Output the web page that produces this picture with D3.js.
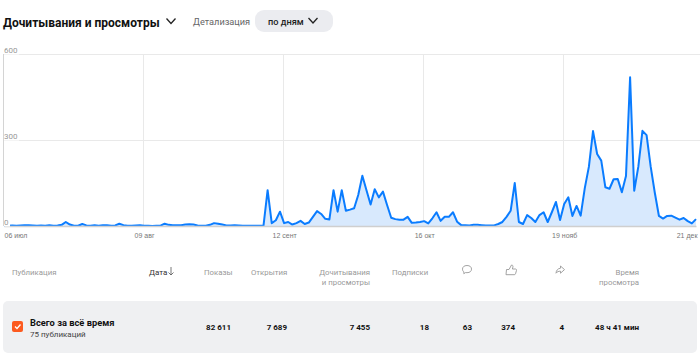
<!DOCTYPE html>
<html>
<head>
<meta charset="utf-8">
<script src="https://cdn.jsdelivr.net/npm/d3@7"></script>
<style>
  html, body { margin: 0; padding: 0; background: #fff; overflow: hidden; }
  svg { display: block; font-family: Roboto, sans-serif; }
</style>
</head>
<body>
<svg id="chart" width="700" height="358"></svg>
<script>
// one value per day, starting 06 июл
const dailyViews = [
  1, 1, 2, 1, 2, 3, 3, 2, 1, 2, 1, 3, 1, 2, 4, 14, 5, 1, 1, 7,
  2, 1, 3, 1, 3, 3, 1, 2, 8, 3, 1, 1, 2, 3, 1, 1, 0, 1, 1, 8,
  4, 3, 3, 3, 5, 6, 5, 2, 1, 1, 4, 10, 8, 5, 2, 2, 3, 2, 1, 1,
  1, 1, 1, 1, 125, 10, 20, 50, 10, 14, 5, 10, 18, 7, 12, 32, 52, 42, 25, 23,
  125, 50, 125, 53, 57, 62, 108, 175, 125, 75, 128, 100, 120, 73, 29, 24, 22, 22, 32, 11,
  12, 14, 17, 9, 27, 48, 18, 32, 32, 48, 15, 3, 3, 2, 4, 4, 3, 2, 2, 2,
  7, 14, 32, 53, 150, 14, 7, 38, 28, 14, 38, 48, 14, 48, 84, 21, 77, 100, 35, 70,
  36, 132, 207, 331, 251, 228, 135, 130, 163, 164, 118, 174, 519, 123, 207, 332, 317, 207, 116, 35,
  26, 35, 36, 29, 22, 28, 17, 9, 24
];
const tickDays = [0, 34, 68, 102, 136, 168];
const tickLabels = ["06 июл", "09 авг", "12 сент", "16 окт", "19 нояб", "21 дек"];
const yTicks = [0, 300, 600];

const headers = ["Публикация", "Показы", "Открытия", "Подписки"];
const totals = ["82 611", "7 689", "7 455", "18", "63", "374", "4", "48 ч 41 мин"];

const svg = d3.select("#chart");
const margin = { top: 54, left: 4, right: 696, bottom: 226 };

const x = d3.scaleLinear().domain([0, 168]).range([margin.left, margin.right]);
const y = d3.scaleLinear().domain([0, 600]).range([margin.bottom, margin.top]);

// Header
svg.append("text").attr("x", 3).attr("y", 26.5)
  .attr("font-size", 12).attr("font-weight", 700).attr("fill", "#111").text("Дочитывания и просмотры");

function chevron(cx, cy, w, color) {
  svg.append("path")
    .attr("d", `M${cx - w},${cy - w * 0.55}L${cx},${cy + w * 0.55}L${cx + w},${cy - w * 0.55}`)
    .attr("fill", "none").attr("stroke", color).attr("stroke-width", 1.3);
}
chevron(171, 21, 4.5, "#222");

svg.append("text").attr("x", 193).attr("y", 24.5)
  .attr("font-size", 9.2).attr("fill", "#666").text("Детализация");
svg.append("rect").attr("x", 255).attr("y", 10).attr("width", 78).attr("height", 22)
  .attr("rx", 9).attr("fill", "#ebecf0");
svg.append("text").attr("x", 268).attr("y", 24.5)
  .attr("font-size", 9.2).attr("font-weight", 500).attr("fill", "#222").text("по дням");
chevron(313, 20.5, 4.5, "#222");

// Grid
const chart = svg.append("g");
chart.selectAll(".hgrid").data(yTicks.slice(1)).enter().append("line")
  .attr("class", "hgrid")
  .attr("x1", margin.left).attr("x2", 700)
  .attr("y1", d => y(d) + 0.5).attr("y2", d => y(d) + 0.5)
  .attr("stroke", "#e9e9e9");
chart.selectAll(".vgrid").data(tickDays.slice(0, 5)).enter().append("line")
  .attr("class", "vgrid")
  .attr("x1", d => Math.round(x(d)) - 0.5).attr("x2", d => Math.round(x(d)) - 0.5)
  .attr("y1", margin.top).attr("y2", margin.bottom)
  .attr("stroke", (d, i) => i === 0 ? "#d4d4d4" : "#e9e9e9");

// Series
const area = d3.area().x((d, i) => x(i)).y0(y(0)).y1(d => y(d));
const line = d3.line().x((d, i) => x(i)).y(d => y(d));
chart.append("path").datum(dailyViews).attr("d", area).attr("fill", "#d8e9fd");

const xAxis = d3.axisBottom(x).tickValues(tickDays).tickSize(0).tickPadding(7)
  .tickFormat((d, i) => tickLabels[i]);
const xg = svg.append("g").attr("transform", `translate(0,${margin.bottom})`).call(xAxis);
xg.select(".domain").attr("stroke", "#cfcfcf").attr("stroke-width", 1.5);
xg.selectAll("text").attr("font-family", "inherit").attr("font-size", 7).attr("fill", "#777")
  .attr("text-anchor", (d, i) => i === 0 ? "start" : i === 5 ? "end" : "middle")
  .attr("dx", (d, i) => i === 5 ? 1 : 0);

chart.append("path").datum(dailyViews).attr("d", line)
  .attr("fill", "none").attr("stroke", "#0a7cff").attr("stroke-width", 2)
  .attr("stroke-linejoin", "round");

// y labels sit above their gridlines, over a white patch
const yLabels = svg.selectAll(".ylab").data(yTicks).enter().append("g").attr("class", "ylab");
yLabels.append("rect")
  .attr("x", margin.left).attr("y", d => y(d) - 9)
  .attr("width", d => d === 0 ? 6 : 15).attr("height", 9.5).attr("fill", "#fff");
yLabels.append("text")
  .attr("x", margin.left).attr("y", d => y(d) - 1.5)
  .attr("font-size", 8).attr("fill", "#999").text(d => d);

// Table
const muted = "#999";
const headerX = [12, 204, 251, 392];
svg.selectAll(".th").data(headers).enter().append("text")
  .attr("class", "th").attr("x", (d, i) => headerX[i]).attr("y", 274.5)
  .attr("font-size", 7.8).attr("fill", muted).text(d => d);

svg.append("text").attr("x", 149).attr("y", 274.5)
  .attr("font-size", 8).attr("fill", "#333").text("Дата");
svg.append("path").attr("d", "M171,267V275M168.5,272.5L171,275L173.5,272.5")
  .attr("fill", "none").attr("stroke", "#555").attr("stroke-width", 0.8);

svg.append("text").attr("x", 370).attr("y", 274.5).attr("text-anchor", "end")
  .attr("font-size", 7.8).attr("fill", muted).text("Дочитывания");
svg.append("text").attr("x", 370).attr("y", 285).attr("text-anchor", "end")
  .attr("font-size", 7.8).attr("fill", muted).text("и просмотры");
svg.append("text").attr("x", 639).attr("y", 274.5).attr("text-anchor", "end")
  .attr("font-size", 7.8).attr("fill", muted).text("Время");
svg.append("text").attr("x", 639).attr("y", 285).attr("text-anchor", "end")
  .attr("font-size", 7.8).attr("fill", muted).text("просмотра");

// comment, like, share icons
const iconStyle = g => g.attr("fill", "none").attr("stroke", "#999").attr("stroke-width", 0.9);
svg.append("path").call(iconStyle)
  .attr("d", "M467,265.5c3,0,4.5,1.6,4.5,3.6s-1.5,3.6-4.5,3.6c-0.5,0-1,0-1.5-0.1l-1.7,1.1l0.1-1.8c-1,-0.6-1.4,-1.6-1.4,-2.8c0-2,1.5-3.6,4.5-3.6z");
svg.append("path").call(iconStyle)
  .attr("d", "M506.5,269.5h2.5l2.5-4.5c1.2,0,1.7,0.9,1.4,2l-0.5,2h3.1c0.8,0,1.2,0.7,1,1.4l-1,3.4c-0.2,0.6-0.6,0.9-1.2,0.9h-8.3z");
svg.append("path").call(iconStyle)
  .attr("d", "M560.5,266l4,3.6l-4,3.6v-2c-2,0-3.4,0.5-4.5,2c0.2-2.8,1.8-4.7,4.5-5z");

svg.append("rect").attr("x", 3).attr("y", 301).attr("width", 694).attr("height", 52)
  .attr("rx", 5).attr("fill", "#eff0f2");
svg.append("rect").attr("x", 12).attr("y", 321).attr("width", 11).attr("height", 11)
  .attr("rx", 2).attr("fill", "#fc5a1f");
svg.append("path").attr("d", "M15,326.5L17,328.5L20.5,324.5")
  .attr("fill", "none").attr("stroke", "#fff").attr("stroke-width", 1.3);
svg.append("text").attr("x", 30).attr("y", 325.5)
  .attr("font-size", 9.3).attr("font-weight", 700).attr("fill", "#111").text("Всего за всё время");
svg.append("text").attr("x", 30).attr("y", 337)
  .attr("font-size", 8).attr("fill", "#444").text("75 публикаций");

const totalRight = [231, 287, 370, 429, 472, 515, 564, 639];
svg.selectAll(".total").data(totals).enter().append("text")
  .attr("class", "total").attr("x", (d, i) => totalRight[i]).attr("y", 330)
  .attr("text-anchor", "end").attr("font-size", 8).attr("font-weight", 700).attr("fill", "#111")
  .text(d => d);
</script>
</body>
</html>
